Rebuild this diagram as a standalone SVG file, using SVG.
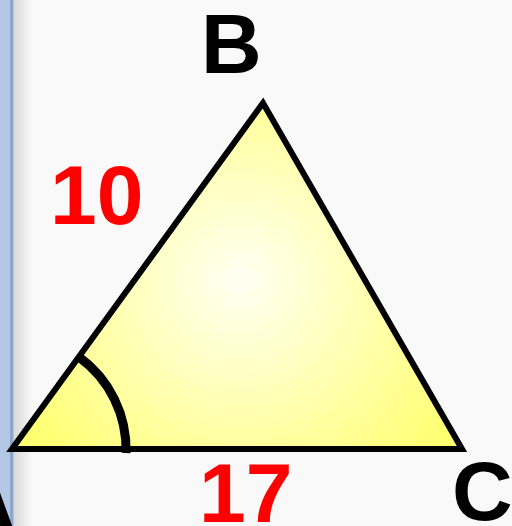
<svg xmlns="http://www.w3.org/2000/svg" width="512" height="526" viewBox="0 0 512 526">
<defs>
<radialGradient id="fillg" cx="240" cy="280" r="260" gradientUnits="userSpaceOnUse">
<stop offset="0" stop-color="#fffff4"/>
<stop offset="1" stop-color="#ffff70"/>
</radialGradient>
<linearGradient id="shadow" x1="0" y1="0" x2="1" y2="0">
<stop offset="0" stop-color="#d8d8d8"/>
<stop offset="1" stop-color="#f9f9f9"/>
</linearGradient>
<style>
.lbl{font-family:"Liberation Sans",Arial,sans-serif;font-weight:bold;font-size:84px}
.red{fill:#ff0000}
.blk{fill:#000000}
</style>
</defs>
<rect width="512" height="526" fill="#f9f9f9"/>
<g id="sidebar">
<rect x="0" y="0" width="14" height="526" fill="#b4c8e6"/>
<rect x="10" y="0" width="3" height="526" fill="#8ca6cc"/>
<rect x="14" y="0" width="18" height="526" fill="url(#shadow)"/>
</g>
<g id="triangle">
<polygon points="12,449 263,103 462,449" fill="url(#fillg)" stroke="#000" stroke-width="6" stroke-linejoin="miter"/>
</g>
<g id="angle">
<path d="M 79,357 A 114 114 0 0 1 126,453" fill="none" stroke="#000" stroke-width="9"/>
</g>
<g id="labels">
<text class="lbl blk" x="201" y="73">B</text>
<text class="lbl red" x="50" y="224">10</text>
<text class="lbl red" x="199" y="522">17</text>
<text class="lbl blk" x="452" y="520">C</text>
<text class="lbl blk" x="-45" y="530">A</text>
</g>
</svg>
